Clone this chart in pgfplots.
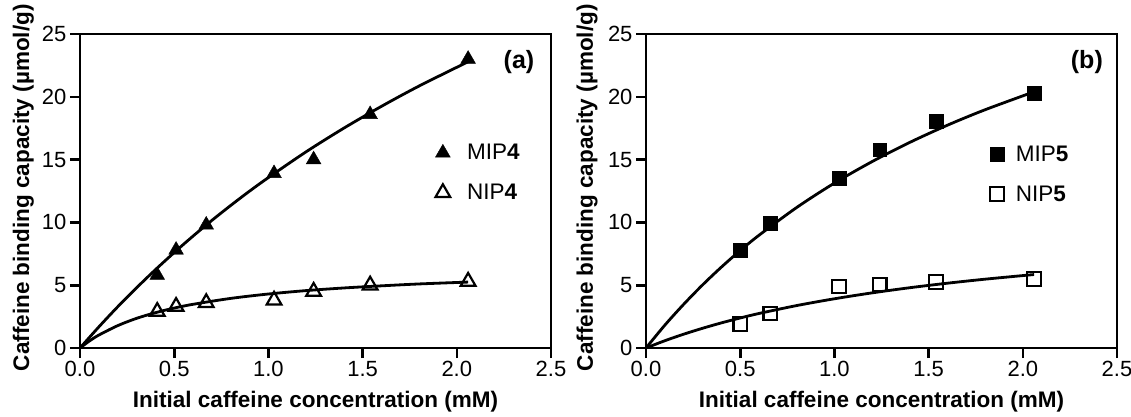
\documentclass[border=0pt]{standalone}
\usepackage{fontspec}
\setmainfont{Liberation Sans}
\usepackage{pgfplots}
\pgfplotsset{compat=1.18}

\pgfplotsset{
  panel/.style={
    scale only axis, width=471pt, height=314pt,
    xmin=0, xmax=2.5, ymin=0, ymax=25,
    xtick={0,0.5,1,1.5,2,2.5}, ytick={0,5,10,15,20,25},
    xtick pos=bottom, ytick pos=left, tick align=outside,
    major tick length=10pt,
    axis line style={line width=2.8pt},
    every tick/.style={line width=2.6pt, black},
    /pgf/number format/assume math mode=true,
    xticklabel style={/pgf/number format/.cd, fixed, fixed zerofill, precision=1},
    tick label style={font=\fontsize{22}{26}\selectfont},
    label style={font=\fontsize{22.5}{26}\selectfont\bfseries},
    xlabel={Initial caffeine concentration (mM)},
    ylabel={Caffeine binding capacity (µmol/g)},
    xlabel style={at={(axis description cs:0.5,-0.17)}, anchor=center},
    legend style={draw=none, fill=none, font=\fontsize{22.5}{26}\selectfont,
                  row sep=19pt, column sep=15pt, anchor=west},
    legend cell align=left,
  },
  fit/.style={black, line width=2.8pt, smooth, mark=none, forget plot},
}

\begin{document}
\begin{tikzpicture}
\path[use as bounding box] (0,0) rectangle (1131pt,416pt);

% (a)
\begin{axis}[panel, at={(80pt,68pt)}, anchor=south west,
    ylabel style={at={(axis description cs:-0.12,0.51)}, anchor=center},
    legend style={at={(axis cs:1.87,13.95)}}]
  \addplot[fit] coordinates {
    (0,0) (0.1,1.68) (0.2,3.28) (0.3,4.79) (0.4,6.23) (0.5,7.60) (0.6,8.91)
    (0.7,10.16) (0.8,11.35) (0.9,12.49) (1.0,13.57) (1.2,15.62) (1.4,17.50)
    (1.6,19.24) (1.8,20.86) (2.06,22.79)};
  \addplot[fit] coordinates {
    (0,0) (0.05,0.56) (0.1,1.03) (0.2,1.78) (0.3,2.36) (0.4,2.81) (0.5,3.18)
    (0.6,3.48) (0.8,3.95) (1.0,4.30) (1.2,4.57) (1.4,4.78) (1.6,4.95)
    (1.8,5.10) (2.06,5.25)};
  \addplot[only marks, mark=triangle*, mark size=8.5pt, black] coordinates {
    (0.41,5.8) (0.51,7.8) (0.67,9.8) (1.03,13.9) (1.24,15.0) (1.54,18.6) (2.06,23.0)};
  \addlegendentry{MIP\textbf{4}}
  \addplot[only marks, mark=triangle, mark size=8.5pt, black, line width=2.2pt] coordinates {
    (0.41,2.9) (0.51,3.3) (0.67,3.6) (1.03,3.8) (1.24,4.5) (1.54,5.0) (2.06,5.3)};
  \addlegendentry{NIP\textbf{4}}
  \node[font=\fontsize{25}{29}\selectfont\bfseries] at (axis cs:2.33,22.8) {(a)};
\end{axis}

% (b)
\begin{axis}[panel, at={(646pt,68pt)}, anchor=south west,
    ylabel style={at={(axis description cs:-0.125,0.51)}, anchor=center},
    legend style={at={(axis cs:1.81,13.85)}, column sep=10pt}]
  \addplot[fit] coordinates {
    (0,0) (0.1,1.82) (0.2,3.48) (0.3,5.02) (0.4,6.44) (0.5,7.76) (0.6,8.98)
    (0.8,11.19) (1.0,13.13) (1.2,14.84) (1.4,16.37) (1.6,17.74) (1.8,18.97)
    (2.06,20.40)};
  \addplot[fit] coordinates {
    (0,0) (0.1,0.58) (0.2,1.10) (0.3,1.57) (0.4,2.00) (0.5,2.39) (0.6,2.75)
    (0.8,3.38) (1.0,3.92) (1.2,4.39) (1.4,4.80) (1.6,5.16) (1.8,5.48)
    (2.06,5.85)};
  \addplot[only marks, mark=square*, mark size=6.8pt, black] coordinates {
    (0.50,7.8) (0.66,9.95) (1.025,13.5) (1.24,15.8) (1.54,18.05) (2.06,20.3)};
  \addlegendentry{MIP\textbf{5}}
  \addplot[only marks, mark=square, mark size=6.8pt, black, line width=2.2pt] coordinates {
    (0.50,1.9) (0.66,2.75) (1.025,4.9) (1.24,5.05) (1.54,5.25) (2.06,5.5)};
  \addlegendentry{NIP\textbf{5}}
  \node[font=\fontsize{25}{29}\selectfont\bfseries] at (axis cs:2.34,22.8) {(b)};
\end{axis}
\end{tikzpicture}
\end{document}
